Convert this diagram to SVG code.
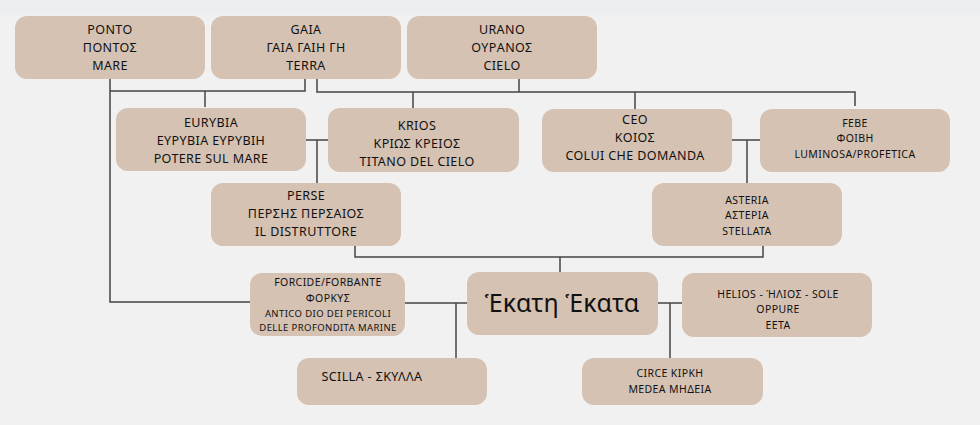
<svg xmlns="http://www.w3.org/2000/svg" width="980" height="425" viewBox="0 0 980 425">
<style>
.b{fill:#d5c2b3}
text{font-family:"Noto Sans","DejaVu Sans",sans-serif;font-size:12.5px;fill:#111;text-anchor:middle;letter-spacing:0.4px}
.s{font-size:10.5px}
.c{fill:none;stroke:#444;stroke-width:1.5}
</style>
<rect width="980" height="425" fill="#f1f1f1"/>
<rect width="980" height="15" fill="#eceef2"/>
<g id="connectors" class="c">
<path d="M110 79V302H250"/>
<path d="M305 79V91H110M205 91V107"/>
<path d="M317 79V92H855V106M519 79V92M413 92V108M635 92V109"/>
<path d="M306 140H328M317 140V183"/>
<path d="M732 140H760M747 140V183"/>
<path d="M355 246V257H763V246M560 257V272"/>
<path d="M405 303H467M456 303V358"/>
<path d="M658 303H682M670 303V358"/>
</g>
<g id="ponto"><rect class="b" x="15" y="16" width="190" height="63" rx="12"/><text x="110" y="34">PONTO</text><text x="110" y="52">ΠΟΝΤΟΣ</text><text x="110" y="70">MARE</text></g>
<g id="gaia"><rect class="b" x="211" y="16" width="190" height="63" rx="12"/><text x="306" y="34">GAIA</text><text x="306" y="52">ΓΑΙΑ ΓΑΙΗ ΓΗ</text><text x="306" y="70">TERRA</text></g>
<g id="urano"><rect class="b" x="407" y="16" width="190" height="63" rx="12"/><text x="502" y="34">URANO</text><text x="502" y="52">ΟΥΡΑΝΟΣ</text><text x="502" y="70">CIELO</text></g>
<g id="eurybia"><rect class="b" x="116" y="108" width="190" height="63" rx="12"/><text x="211" y="127">EURYBIA</text><text x="211" y="145">ΕΥΡΥΒΙΑ ΕΥΡΥΒΙΗ</text><text x="211" y="163">POTERE SUL MARE</text></g>
<g id="krios"><rect class="b" x="328" y="108" width="191" height="64" rx="12"/><text x="417" y="130">KRIOS</text><text x="417" y="148">ΚΡΙΩΣ ΚΡΕΙΟΣ</text><text x="417" y="166">TITANO DEL CIELO</text></g>
<g id="ceo"><rect class="b" x="542" y="109" width="190" height="63" rx="12"/><text x="635" y="124">CEO</text><text x="635" y="142">ΚΟΙΟΣ</text><text x="635" y="160">COLUI CHE DOMANDA</text></g>
<g id="febe"><rect class="b" x="760" y="109" width="190" height="63" rx="12"/><text class="s" x="855" y="127">FEBE</text><text class="s" x="855" y="142">ΦΟΙΒΗ</text><text class="s" x="855" y="158">LUMINOSA/PROFETICA</text></g>
<g id="perse"><rect class="b" x="211" y="183" width="190" height="63" rx="12"/><text x="306" y="200">PERSE</text><text x="306" y="218">ΠΕΡΣΗΣ ΠΕΡΣΑΙΟΣ</text><text x="306" y="236">IL DISTRUTTORE</text></g>
<g id="asteria"><rect class="b" x="652" y="183" width="190" height="63" rx="12"/><text class="s" x="747" y="204">ASTERIA</text><text class="s" x="747" y="219">ΑΣΤΕΡΙΑ</text><text class="s" x="747" y="235">STELLATA</text></g>
<g id="forcide"><rect class="b" x="250" y="273" width="155" height="63" rx="12"/><text class="s" x="328" y="286">FORCIDE/FORBANTE</text><text class="s" x="328" y="302">ΦΟΡΚΥΣ</text><text class="s" x="328" y="317" style="font-size:9.5px">ANTICO DIO DEI PERICOLI</text><text class="s" x="328" y="331" style="font-size:9.5px">DELLE PROFONDITA MARINE</text></g>
<g id="ekate"><rect class="b" x="467" y="272" width="191" height="63" rx="12"/><text x="562" y="312" style="font-size:25px;letter-spacing:0">Ἑκατη Ἑκατα</text></g>
<g id="helios"><rect class="b" x="682" y="273" width="190" height="64" rx="12"/><text class="s" x="778" y="298">HELIOS - ΉΛΙΟΣ - SOLE</text><text class="s" x="778" y="313">OPPURE</text><text class="s" x="778" y="329">EETA</text></g>
<g id="scilla"><rect class="b" x="297" y="358" width="190" height="47" rx="12"/><text x="372" y="381">SCILLA - ΣΚΥΛΛΑ</text></g>
<g id="circe"><rect class="b" x="582" y="358" width="181" height="47" rx="12"/><text class="s" x="670" y="377">CIRCE ΚΙΡΚΗ</text><text class="s" x="670" y="393">MEDEA ΜΗΔΕΙΑ</text></g>
</svg>
